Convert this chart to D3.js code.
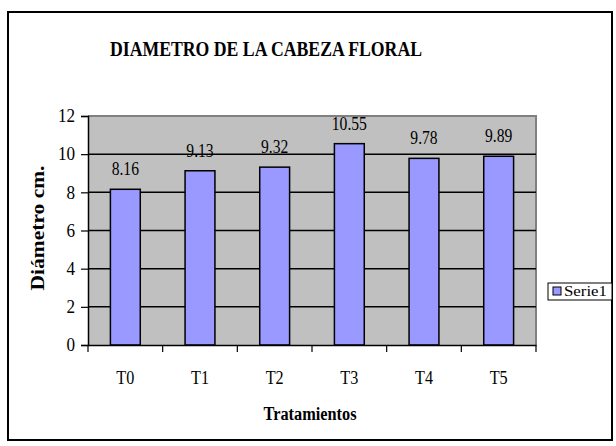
<!DOCTYPE html>
<html><head><meta charset="utf-8">
<script src="https://cdn.jsdelivr.net/npm/d3@7"></script>
<style>body{margin:0;background:#fff}svg{display:block}</style>
</head><body>
<svg id="c" width="616" height="446"></svg>
<script>
const categories = ["T0","T1","T2","T3","T4","T5"];
const values = [8.16, 9.13, 9.32, 10.55, 9.78, 9.89];
const yTicks = [0,2,4,6,8,10,12];
const seriesName = "Serie1";
const title = "DIAMETRO DE LA CABEZA FLORAL";
const xTitle = "Tratamientos";
const yTitle = "Diámetro cm.";

const FF = "'Liberation Serif', 'Times New Roman', Times, serif";
const svg = d3.select("#c");
const m = {left: 88, top: 116, right: 536, bottom: 345};

function squeeze(sel, f) {
  sel.each(function() {
    const L = this.getComputedTextLength();
    d3.select(this).attr("textLength", L * f).attr("lengthAdjust", "spacingAndGlyphs");
  });
}

// outer border
svg.append("rect").attr("x", 8).attr("y", 12).attr("width", 604).attr("height", 428)
  .attr("fill", "#fff").attr("stroke", "#000").attr("stroke-width", 2);

const x = d3.scaleBand().domain(categories).range([m.left, m.right]).paddingInner(0.6).paddingOuter(0.3);
const xb = d3.scaleBand().domain(categories).range([m.left, m.right]);
const y = d3.scaleLinear().domain([0, 12]).range([m.bottom, m.top]);

// plot background
svg.append("rect").attr("x", m.left).attr("y", m.top).attr("width", m.right - m.left).attr("height", m.bottom - m.top)
  .attr("fill", "#C0C0C0");
svg.append("path").attr("d", `M${m.left},${m.top}H${m.right}V${m.bottom}`).attr("fill", "none")
  .attr("stroke", "#808080").attr("stroke-width", 2);

// gridlines
svg.append("g").selectAll("line").data(yTicks.filter(d => d > 0 && d < 12)).join("line")
  .attr("x1", m.left).attr("x2", m.right).attr("y1", d => y(d)).attr("y2", d => y(d))
  .attr("stroke", "#000").attr("stroke-width", 1.5);

// bars
svg.append("g").selectAll("rect").data(values).join("rect")
  .attr("x", (d, i) => x(categories[i])).attr("width", x.bandwidth())
  .attr("y", d => y(d)).attr("height", d => y(0) - y(d))
  .attr("fill", "#9999FF").attr("stroke", "#000").attr("stroke-width", 1.5);

// value labels
const vl = svg.append("g").selectAll("text").data(values).join("text")
  .attr("x", (d, i) => x(categories[i]) + x.bandwidth() / 2).attr("y", d => y(d) - 14)
  .attr("text-anchor", "middle").style("font-family", FF).style("font-size", "19px").attr("fill", "#000")
  .text(d => d.toFixed(2));
squeeze(vl, 0.82);

// y axis
const ya = svg.append("g").attr("transform", `translate(${m.left},0)`)
  .call(d3.axisLeft(y).tickValues(yTicks).tickSize(7).tickPadding(6).tickFormat(d3.format("d")));
ya.select(".domain").attr("stroke", "#000").attr("stroke-width", 1.5);
ya.selectAll(".tick line").attr("stroke", "#000").attr("stroke-width", 1.2);
ya.selectAll(".tick text").style("font-size", "18px").style("font-family", FF).attr("fill", "#000");
squeeze(ya.selectAll(".tick text"), 0.95);

// x axis
const xa = svg.append("g").attr("transform", `translate(0,${m.bottom})`)
  .call(d3.axisBottom(xb).tickSize(0).tickPadding(26));
xa.select(".domain").attr("stroke", "#000").attr("stroke-width", 1.5);
xa.selectAll(".tick text").style("font-size", "19px").style("font-family", FF).attr("fill", "#000");
squeeze(xa.selectAll(".tick text"), 0.85);
// boundary ticks
const bounds = categories.map(c => xb(c)).concat([m.right]);
svg.append("g").selectAll("line").data(bounds).join("line")
  .attr("x1", d => d).attr("x2", d => d).attr("y1", m.bottom).attr("y2", m.bottom + 7)
  .attr("stroke", "#000").attr("stroke-width", 1.2);

// titles
svg.append("text").attr("x", 266).attr("y", 56).attr("text-anchor", "middle")
  .style("font-family", FF).style("font-size", "21px").attr("font-weight", "bold")
  .attr("textLength", 312).attr("lengthAdjust", "spacingAndGlyphs")
  .text(title);
svg.append("text").attr("x", 310).attr("y", 420).attr("text-anchor", "middle")
  .style("font-family", FF).style("font-size", "18px").attr("font-weight", "bold")
  .attr("textLength", 93).attr("lengthAdjust", "spacingAndGlyphs")
  .text(xTitle);
svg.append("text").attr("transform", "translate(44,228) rotate(-90)").attr("text-anchor", "middle")
  .style("font-family", FF).style("font-size", "18px").attr("font-weight", "bold")
  .attr("textLength", 125).attr("lengthAdjust", "spacingAndGlyphs")
  .text(yTitle);

// legend
const lg = svg.append("g");
lg.append("rect").attr("x", 548).attr("y", 283).attr("width", 64).attr("height", 17)
  .attr("fill", "#fff").attr("stroke", "#000").attr("stroke-width", 1);
lg.append("rect").attr("x", 553).attr("y", 287).attr("width", 8).attr("height", 8)
  .attr("fill", "#9999FF").attr("stroke", "#000").attr("stroke-width", 1);
lg.append("text").attr("x", 564).attr("y", 296).style("font-family", FF).style("font-size", "14px")
  .attr("textLength", 43).attr("lengthAdjust", "spacingAndGlyphs")
  .text(seriesName);
</script>
</body></html>
